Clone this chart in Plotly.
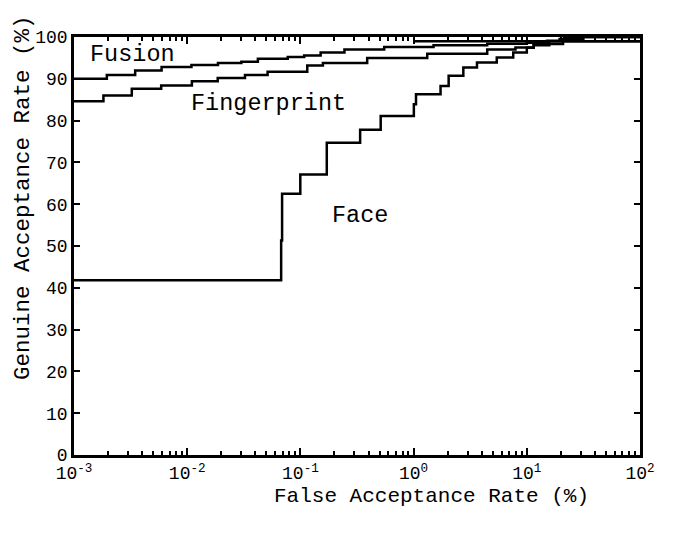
import plotly.graph_objects as go

# False acceptance rate (%) and genuine acceptance rate (%) step points
fusion_far = [0.001, 0.00195, 0.00347, 0.00594, 0.0109, 0.0187, 0.0301, 0.0421,
              0.0773, 0.108, 0.151, 0.245, 0.550, 1.50, 4.47, 10.0, 15.1, 19.5, 21.4, 100]
fusion_gar = [90.0, 90.9, 92.0, 92.8, 93.3, 93.8, 94.1, 94.8,
              95.2, 95.6, 96.3, 97.0, 97.6, 98.0, 98.4, 98.6, 99.1, 99.5, 100.0, 100.0]

finger_far = [0.001, 0.00182, 0.00324, 0.00589, 0.0110, 0.0186, 0.0324, 0.0513,
              0.115, 0.158, 0.389, 1.32, 4.47, 7.94, 11.5, 15.8, 100]
finger_gar = [84.6, 86.0, 87.6, 88.4, 89.4, 90.2, 90.9, 91.7,
              93.2, 93.8, 95.0, 96.0, 97.0, 97.5, 98.0, 99.0, 99.0]

face_far = [0.001, 0.0676, 0.0689, 0.0998, 0.171, 0.337, 0.512, 1.005, 1.05,
            1.73, 2.04, 2.75, 3.63, 5.43, 7.59, 10.0, 11.5, 20.9, 31.6, 100]
face_gar = [41.8, 51.3, 62.5, 67.1, 74.7, 77.8, 81.1, 83.9, 86.3,
            88.3, 90.7, 92.7, 93.9, 95.1, 96.3, 97.4, 98.3, 99.5, 100.0, 100.0]

extra_far = [1.0, 100]
extra_gar = [99.0, 99.0]

x_tickvals = [0.001, 0.01, 0.1, 1, 10, 100]
x_ticktext = ["10<sup>-3</sup>", "10<sup>-2</sup>", "10<sup>-1</sup>",
              "10<sup>0</sup>", "10<sup>1</sup>", "10<sup>2</sup>"]
y_tickvals = [0, 10, 20, 30, 40, 50, 60, 70, 80, 90, 100]

FONT = "Liberation Mono, Courier New, monospace"
LW = 2.5

fig = go.Figure()
for xs, ys, name in [(fusion_far, fusion_gar, "Fusion"),
                     (finger_far, finger_gar, "Fingerprint"),
                     (face_far, face_gar, "Face"),
                     (extra_far, extra_gar, "")]:
    fig.add_trace(go.Scatter(x=xs, y=ys, mode="lines", name=name,
                             line=dict(color="black", width=LW, shape="hv"),
                             showlegend=False, hoverinfo="skip"))

fig.update_layout(
    width=674, height=534,
    margin=dict(l=66, r=42, t=29, b=87),
    paper_bgcolor="white", plot_bgcolor="white",
    font=dict(family=FONT, size=18, color="black"),
    showlegend=False,
)
fig.update_xaxes(
    type="log", range=[-3, 2],
    tickvals=x_tickvals, ticktext=x_ticktext,
    ticks="inside", ticklen=7, tickwidth=2, tickcolor="black",
    minor=dict(ticks="inside", ticklen=4, tickwidth=2, tickcolor="black", dtick="D1", showgrid=False),
    showline=True, linecolor="black", linewidth=LW, mirror="allticks",
    showgrid=False, zeroline=False,
    tickfont=dict(family=FONT, size=18),
)
fig.update_yaxes(
    range=[0, 100], tickvals=y_tickvals,
    ticks="inside", ticklen=6, tickwidth=2, tickcolor="black",
    showline=True, linecolor="black", linewidth=LW, mirror="allticks",
    showgrid=False, zeroline=False,
    tickfont=dict(family=FONT, size=18),
)

def label(text, x, y, size, angle=0):
    fig.add_annotation(text=text, x=x, y=y, xref="paper", yref="paper",
                       xanchor="center", yanchor="middle", showarrow=False,
                       font=dict(family=FONT, size=size, color="black"),
                       textangle=angle)

label("Fusion", 0.1025, 0.957, 23.5)
label("Fingerprint", 0.343, 0.842, 23.5)
label("Face", 0.505, 0.572, 23.5)
label("False Acceptance Rate (%)", 0.631, -0.100, 21)
label("Genuine Acceptance Rate (%)", -0.090, 0.615, 22.5, -90)

fig.write_html("out.html")
